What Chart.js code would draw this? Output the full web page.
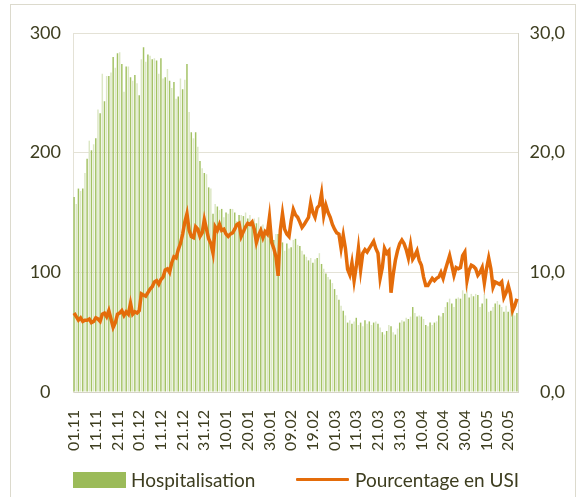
<!DOCTYPE html>
<html>
<head>
<meta charset="utf-8">
<script src="https://cdn.jsdelivr.net/npm/chart.js@4.4.1/dist/chart.umd.min.js"></script>
<style>
  html, body { margin: 0; padding: 0; background: #fff; }
  #wrap { position: relative; width: 581px; height: 497px; overflow: hidden; font-family: Lato, "Open Sans", sans-serif; }
  #frame { position: absolute; left: 10px; top: 4px; width: 564px; height: 520px; border: 1px solid #dcdacd; }
  canvas { position: absolute; left: 0; top: 0; }
  .lg { position: absolute; top: 469px; height: 22px; line-height: 22px; font-size: 19px; color: #3d3d1f; white-space: nowrap; }
  .box { position: absolute; top: 472px; left: 73px; width: 53px; height: 16px; background: #9bbb59; }
  .ln { position: absolute; top: 478px; left: 296px; width: 53px; height: 3px; background: #e46c0a; border-radius: 1px; }
</style>
</head>
<body>
<div id="wrap">
  <div id="frame"></div>
  <canvas id="chart" width="581" height="497"></canvas>
  <div class="box"></div><div class="lg" style="left:131px">Hospitalisation</div>
  <div class="ln"></div><div class="lg" style="left:355px">Pourcentage en USI</div>
</div>
<script>
// daily values, 01.11 -> 25.05
const hospitalisation = [
  163,157,170,168,170,183,195,210,202,207,212,236,233,266,243,264,264,267,280,271,283,284,274,251,
  272,272,263,260,265,258,248,278,288,276,282,281,278,279,277,266,279,262,263,270,260,254,259,245,247,262,
  253,261,274,234,217,212,217,205,193,187,183,182,171,170,149,157,155,152,153,146,150,149,153,153,150,143,148,148,
  147,150,145,148,143,145,141,146,138,140,132,138,135,130,127,132,
  132,128,125,118,124,120,121,127,128,123,122,118,115,113,110,112,108,111,112,116,107,103,99,96,94,91,86,81,77,72,68,64,58,60,57,59,62,
  56,58,55,60,57,59,56,58,59,57,54,50,48,51,56,55,50,48,53,58,60,59,62,61,63,
  71,66,63,64,63,61,56,55,58,56,58,59,64,63,66,71,75,78,74,71,78,79,78,85,82,
  88,79,82,80,82,81,71,74,82,78,67,68,71,74,76,73,71,67,72,67,69,68,64,66
];

const pourcentageUSI = [
  6.6,6.3,6.0,6.2,5.9,6.0,6.0,6.1,5.8,5.9,6.2,6.1,5.9,6.5,6.6,6.3,6.8,6.1,5.4,5.8,6.5,6.6,6.8,6.4,6.7,6.5,7.4,6.5,6.7,6.6,6.8,
  8.2,8.1,8.0,8.3,8.6,8.8,9.2,9.3,9.0,9.4,9.6,10.2,10.3,10.0,10.8,11.3,11.2,11.9,12.4,13.2,14.2,14.9,13.5,13.0,12.9,13.8,13.6,13.0,13.3,14.4,
  13.6,12.8,12.4,11.6,13.8,13.5,14.0,13.5,13.6,13.2,13.0,13.2,13.3,13.6,14.0,14.1,13.0,13.4,13.8,14.1,14.0,14.2,13.6,12.5,13.1,13.5,12.9,13.4,13.2,14.6,
  12.5,12.0,11.3,9.7,13.5,14.9,13.6,13.2,13.0,14.3,15.25,14.8,14.6,14.2,13.75,14.0,14.3,14.6,15.8,15.0,14.6,15.4,15.6,16.6,14.75,15.6,15.0,14.6,14.0,13.6,
  13.3,13.2,12.0,13.1,12.0,10.25,9.8,10.8,9.3,10.5,12.0,10.2,11.6,11.9,11.7,12.0,12.3,12.6,12.0,11.6,9.5,10.4,12.0,11.6,11.8,8.3,9.8,11.0,11.8,12.4,
  12.7,12.4,11.9,11.2,12.3,11.1,11.4,11.8,11.0,10.6,9.6,8.9,8.9,9.2,9.5,9.3,9.5,9.6,10.0,9.5,10.2,10.8,11.4,10.6,9.75,10.4,10.3,10.4,11.4,11.7,
  9.3,10.2,10.6,10.5,10.3,9.75,10.0,10.4,9.1,10.3,11.2,10.3,8.75,9.2,9.1,9.0,9.2,7.9,8.3,8.9,8.2,6.8,7.2,7.8
];

// one label per day, starting 01.11.2020
const categories = [];
const start = new Date(2020, 10, 1);
for (let i = 0; i < hospitalisation.length; i++) {
  const d = new Date(start.getFullYear(), start.getMonth(), start.getDate() + i);
  categories.push(String(d.getDate()).padStart(2, '0') + '.' + String(d.getMonth() + 1).padStart(2, '0'));
}

const textColor = '#3d3d1f';
const fontFamily = 'Lato, "Open Sans", sans-serif';
const gridColor = '#e4e2d6';
const green = '#a3c264';
const greenLight = '#dce7c5';
const orange = '#e46c0a';

const ctx = document.getElementById('chart');
new Chart(ctx, {
  data: {
    labels: categories,
    datasets: [
      {
        type: 'bar',
        label: 'Hospitalisation',
        data: hospitalisation,
        yAxisID: 'y',
        backgroundColor: (c) => (c.dataIndex % 2 ? greenLight : green),
        categoryPercentage: 1,
        barPercentage: 0.68,
        order: 1
      },
      {
        type: 'line',
        label: 'Pourcentage en USI',
        data: pourcentageUSI,
        yAxisID: 'y1',
        borderColor: orange,
        borderWidth: 3.5,
        pointRadius: 0,
        tension: 0,
        order: 0
      }
    ]
  },
  options: {
    responsive: false,
    animation: false,
    layout: {
      padding: { top: 33, right: 16, left: 0, bottom: 39 }
    },
    plugins: {
      tooltip: { enabled: false },
      legend: { display: false }
    },
    scales: {
      x: {
        grid: { display: false },
        border: { display: true, color: '#d6d4c8' },
        ticks: {
          autoSkip: false,
          minRotation: 90,
          maxRotation: 90,
          padding: 10,
          color: textColor,
          font: { family: fontFamily, size: 16 },
          callback: (v, i) => (i % 10 === 0 ? categories[i] : '')
        },
        afterFit: (s) => { s.height = 66; }
      },
      y: {
        position: 'left',
        min: 0,
        max: 300,
        ticks: {
          stepSize: 100,
          padding: 12,
          crossAlign: 'center',
          color: textColor,
          font: { family: fontFamily, size: 18 }
        },
        grid: { color: gridColor, drawTicks: false },
        border: { display: true, color: '#e4e2d6' },
        afterFit: (s) => { s.width = 73; }
      },
      y1: {
        position: 'right',
        min: 0,
        max: 30,
        ticks: {
          stepSize: 10,
          padding: 8,
          crossAlign: 'far',
          color: textColor,
          font: { family: fontFamily, size: 18 },
          callback: (v) => v.toFixed(1).replace('.', ',')
        },
        grid: { display: false, drawTicks: false },
        border: { display: true, color: '#d6d4c8' },
        afterFit: (s) => { s.width = 47; }
      }
    }
  }
});
</script>
</body>
</html>
